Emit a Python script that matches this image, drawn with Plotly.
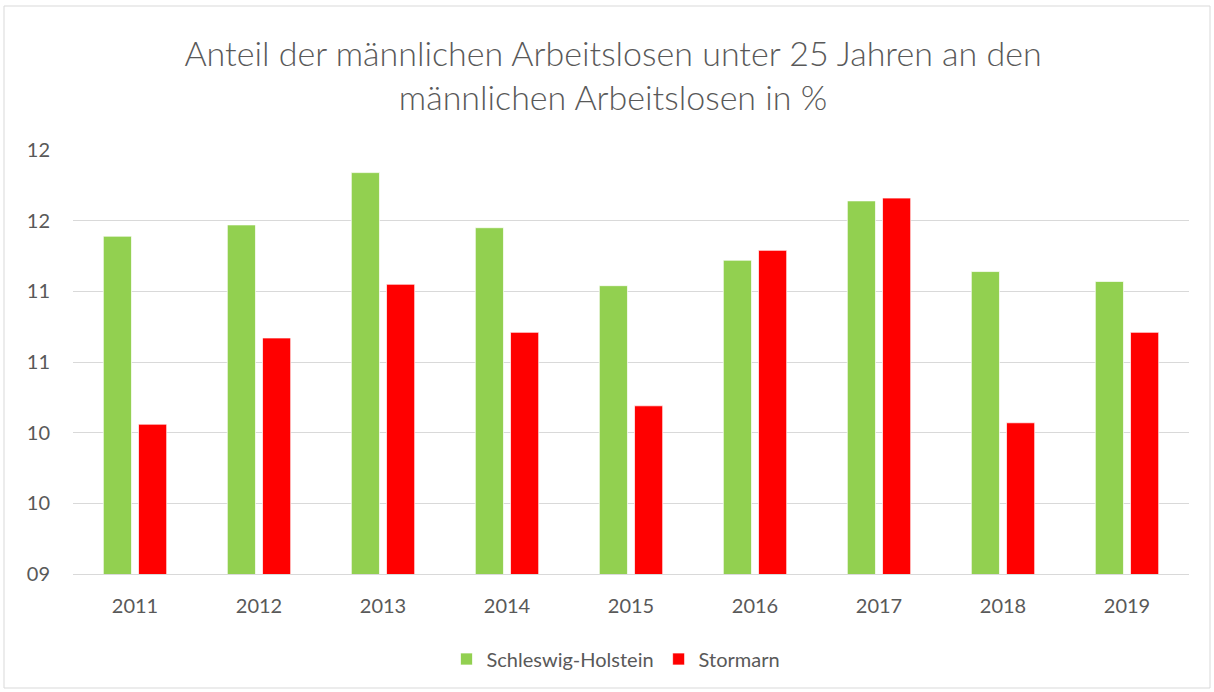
import plotly.graph_objects as go

years = ["2011", "2012", "2013", "2014", "2015", "2016", "2017", "2018", "2019"]
schleswig_holstein = [11.39, 11.47, 11.84, 11.45, 11.04, 11.22, 11.64, 11.14, 11.07]
stormarn = [10.06, 10.67, 11.05, 10.71, 10.19, 11.29, 11.66, 10.07, 10.71]
y_tickvals = [9.0, 9.5, 10.0, 10.5, 11.0, 11.5, 12.0]
y_ticktext = ["09", "10", "10", "11", "11", "12", "12"]

title_text = "Anteil der männlichen Arbeitslosen unter 25 Jahren an den<br>männlichen Arbeitslosen in %"
font_family = "Lato, 'Open Sans', sans-serif"
text_color = "#595959"

fig = go.Figure()
fig.add_trace(go.Bar(
    x=years, y=schleswig_holstein, name="Schleswig-Holstein",
    marker=dict(color="#92D050", line=dict(color="rgba(255,255,255,0.7)", width=1)),
))
fig.add_trace(go.Bar(
    x=years, y=stormarn, name="Stormarn",
    marker=dict(color="#FF0000", line=dict(color="rgba(255,255,255,0.7)", width=1)),
))

W, H = 1214, 692
ml, mr, mt, mb = 73, 25, 150, 118
pw, ph = W - ml - mr, H - mt - mb

def px_x(p):
    return (p - ml) / pw

def px_y(p):
    return (H - mb - p) / ph

fig.update_layout(
    width=W, height=H,
    margin=dict(l=ml, r=mr, t=mt, b=mb),
    paper_bgcolor="white", plot_bgcolor="white",
    font=dict(family=font_family, color=text_color, size=20),
    title=dict(text=title_text, x=0.505, xanchor="center", xref="container",
               y=1 - 66 / H, yanchor="middle", yref="container",
               font=dict(size=34, color=text_color, family=font_family, weight=300)),
    barmode="group", bargap=0.432, bargroupgap=0.2,
    showlegend=True,
    legend=dict(orientation="h", x=px_x(616), xanchor="center",
                y=px_y(659), yanchor="middle",
                font=dict(size=20, color=text_color), itemwidth=30,
                traceorder="normal"),
    xaxis=dict(showgrid=False, showline=True, linecolor="#D9D9D9", linewidth=1,
               ticks="", tickfont=dict(size=20, color=text_color),
               ticklabelstandoff=14),
    yaxis=dict(range=[9, 12], tickvals=y_tickvals, ticktext=y_ticktext,
               showgrid=True, gridcolor="#D9D9D9", gridwidth=1,
               zeroline=False, showline=False, ticks="",
               tickfont=dict(size=20, color=text_color), ticklabelstandoff=22),
    shapes=[dict(type="rect", xref="paper", yref="paper",
                 x0=px_x(4), x1=px_x(1210), y0=px_y(688), y1=px_y(6),
                 line=dict(color="#D9D9D9", width=1), fillcolor="rgba(0,0,0,0)",
                 layer="below")],
)

fig.write_html("out.html", config={"displayModeBar": False},
               post_script="document.body.style.margin='0';")
